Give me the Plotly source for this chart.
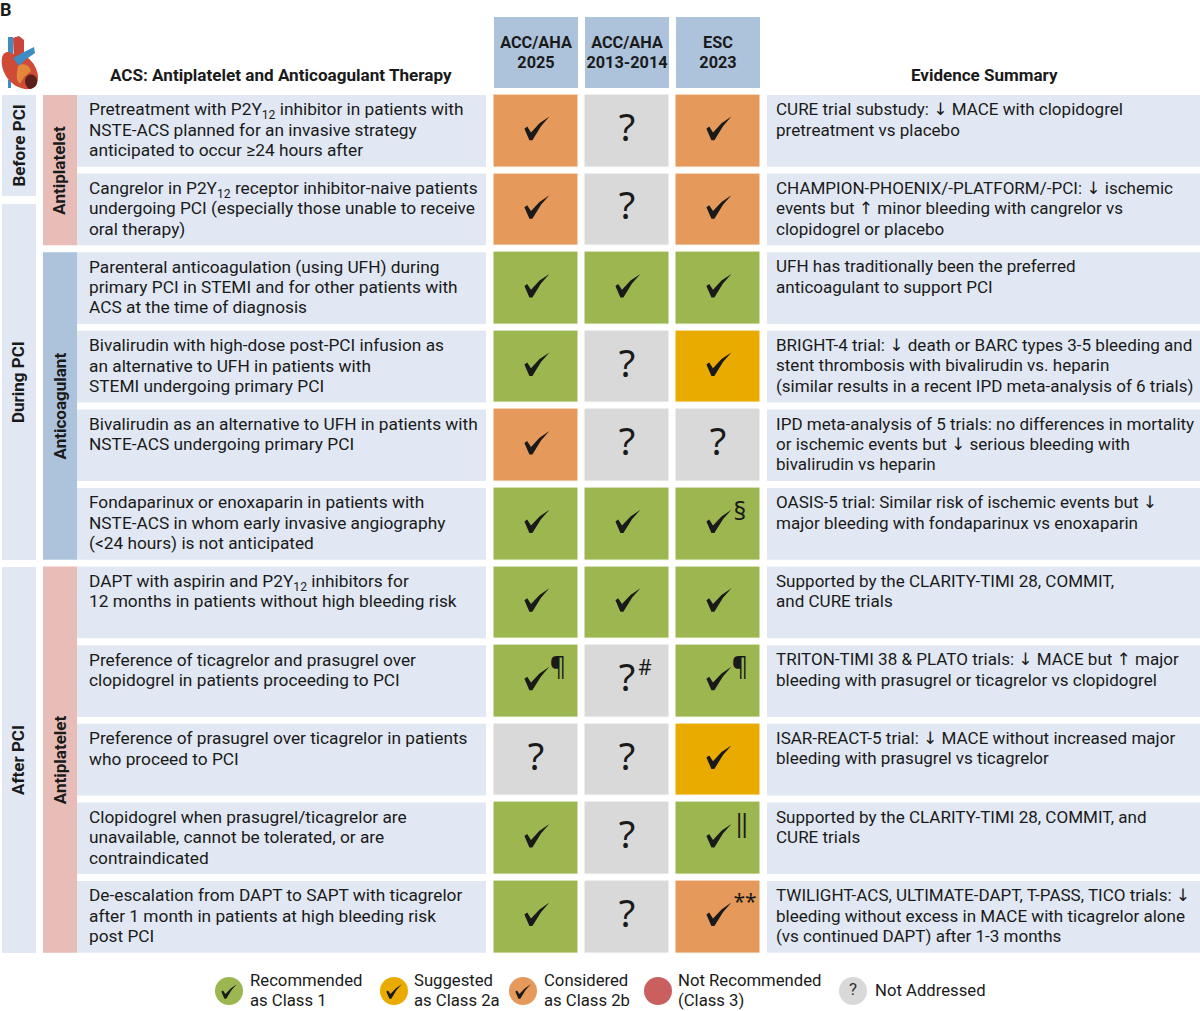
import plotly.graph_objects as go

# ---------- data ----------
guideline_labels = [["ACC/AHA", "2025"], ["ACC/AHA", "2013-2014"], ["ESC", "2023"]]
therapy_lines = [
    ["Pretreatment with P2Y<sub>12</sub> inhibitor in patients with", "NSTE-ACS planned for an invasive strategy", "anticipated to occur ≥24 hours after"],
    ["Cangrelor in P2Y<sub>12</sub> receptor inhibitor-naive patients", "undergoing PCI (especially those unable to receive", "oral therapy)"],
    ["Parenteral anticoagulation (using UFH) during", "primary PCI in STEMI and for other patients with", "ACS at the time of diagnosis"],
    ["Bivalirudin with high-dose post-PCI infusion as", "an alternative to UFH in patients with", "STEMI undergoing primary PCI"],
    ["Bivalirudin as an alternative to UFH in patients with", "NSTE-ACS undergoing primary PCI"],
    ["Fondaparinux or enoxaparin in patients with", "NSTE-ACS in whom early invasive angiography", "(&lt;24 hours) is not anticipated"],
    ["DAPT with aspirin and P2Y<sub>12</sub> inhibitors for", "12 months in patients without high bleeding risk"],
    ["Preference of ticagrelor and prasugrel over", "clopidogrel in patients proceeding to PCI"],
    ["Preference of prasugrel over ticagrelor in patients", "who proceed to PCI"],
    ["Clopidogrel when prasugrel/ticagrelor are", "unavailable, cannot be tolerated, or are", "contraindicated"],
    ["De-escalation from DAPT to SAPT with ticagrelor", "after 1 month in patients at high bleeding risk", "post PCI"],
]
evidence_lines = [
    ["CURE trial substudy: ↓ MACE with clopidogrel", "pretreatment vs placebo"],
    ["CHAMPION-PHOENIX/-PLATFORM/-PCI: ↓ ischemic", "events but ↑ minor bleeding with cangrelor vs", "clopidogrel or placebo"],
    ["UFH has traditionally been the preferred", "anticoagulant to support PCI"],
    ["BRIGHT-4 trial: ↓ death or BARC types 3-5 bleeding and", "stent thrombosis with bivalirudin vs. heparin", "(similar results in a recent IPD meta-analysis of 6 trials)"],
    ["IPD meta-analysis of 5 trials: no differences in mortality", "or ischemic events but ↓ serious bleeding with", "bivalirudin vs heparin"],
    ["OASIS-5 trial: Similar risk of ischemic events but ↓", "major bleeding with fondaparinux vs enoxaparin"],
    ["Supported by the CLARITY-TIMI 28, COMMIT,", "and CURE trials"],
    ["TRITON-TIMI 38 &amp; PLATO trials: ↓ MACE but ↑ major", "bleeding with prasugrel or ticagrelor vs clopidogrel"],
    ["ISAR-REACT-5 trial: ↓ MACE without increased major", "bleeding with prasugrel vs ticagrelor"],
    ["Supported by the CLARITY-TIMI 28, COMMIT, and", "CURE trials"],
    ["TWILIGHT-ACS, ULTIMATE-DAPT, T-PASS, TICO trials: ↓", "bleeding without excess in MACE with ticagrelor alone", "(vs continued DAPT) after 1-3 months"],
]
# 0 not addressed, 1 class 1, 2 class 2a, 3 class 2b, 4 class 3
status_2025 = [3, 3, 1, 1, 3, 1, 1, 1, 0, 1, 1]
status_2013 = [0, 0, 1, 0, 0, 1, 1, 0, 0, 0, 0]
status_esc = [3, 3, 1, 2, 0, 1, 1, 1, 2, 1, 3]
footnote_2025 = ["", "", "", "", "", "", "", "¶", "", "", ""]
footnote_2013 = ["", "", "", "", "", "", "", "#", "", "", ""]
footnote_esc = ["", "", "", "", "", "§", "", "¶", "", "‖", "**"]
stage_labels = ["Before PCI", "During PCI", "After PCI"]
stage_spans = [(0, 95, 196), (1, 204, 560), (2, 567, 953)]
class_labels = ["Antiplatelet", "Anticoagulant", "Antiplatelet"]
class_rows = [(0, 1), (2, 5), (6, 10)]
class_colors = ["#E8BDB7", "#ADC3DC", "#E8BDB7"]
legend_lines = [["Recommended", "as Class 1"], ["Suggested", "as Class 2a"], ["Considered", "as Class 2b"],
                ["Not Recommended", "(Class 3)"], ["Not Addressed"]]
legend_status = [1, 2, 3, 4, 0]
palette = ["#D9D9D9", "#9CB750", "#EAAB00", "#E59A5B", "#C9605F"]

# ---------- layout geometry ----------
W, H = 1200, 1011
ROW0, PITCH, ROW_H = 95.0, 78.6, 71.7
COL_X = [536, 627, 718]
COL_PITCH = 91
INK = "#1A1A1A"
BAND = "#E1E8F3"
FONT = "Roboto"
TEXT_SIZE = 17.2
row_top = lambda i: ROW0 + PITCH * i
row_mid = lambda i: row_top(i) + ROW_H / 2

def arrows(t):
    for a in "↓↑":
        t = t.replace(a, f'<span style="font-family:DejaVu Sans">{a}</span>')
    return t

fig = go.Figure()
shapes = []
def rect(x0, y0, x1, y1, color):
    shapes.append(dict(type="rect", xref="x", yref="y", x0=x0, x1=x1, y0=y0, y1=y1,
                       fillcolor=color, line_width=0, layer="below"))

# status cells
matrix = [list(r) for r in zip(status_2025, status_2013, status_esc)]
n = len(palette)
scale = []
for k, c in enumerate(palette):
    scale += [[k / n, c], [(k + 1) / n, c]]
fig.add_trace(go.Heatmap(x=COL_X, y=[row_mid(i) for i in range(len(matrix))], z=matrix,
                         zmin=0, zmax=n, colorscale=scale, showscale=False, hoverinfo="skip",
                         xgap=COL_PITCH - 84, ygap=PITCH - ROW_H))

# bands
for i in range(len(matrix)):
    rect(77, row_top(i), 486, row_top(i) + ROW_H, BAND)
    rect(767, row_top(i), 1200, row_top(i) + ROW_H, BAND)
for (_, y0, y1) in stage_spans:
    rect(2, y0, 36, y1, BAND)
for (a, b), c in zip(class_rows, class_colors):
    rect(43, row_top(a), 77, row_top(b) + ROW_H, c)
for x in COL_X:
    rect(x - 42, 17, x + 42, 88, "#ADC3DC")

# body text
def add_text(xs, ys, ts, size=TEXT_SIZE, color=INK, pos="middle right", family=FONT):
    fig.add_trace(go.Scatter(x=xs, y=ys, text=ts, mode="text", textposition=pos, hoverinfo="skip",
                             textfont=dict(family=family, size=size, color=color), showlegend=False))

for x0, table, size in ((89, therapy_lines, 17.3), (776, evidence_lines, 17.05)):
    xs, ys, ts = [], [], []
    for i, lines in enumerate(table):
        for j, t in enumerate(lines):
            xs.append(x0); ys.append(row_top(i) + 16.0 + 20.4 * j); ts.append(arrows(t))
    add_text(xs, ys, ts, size=size)

# check marks and question marks
def check_path(cx, cy, k=1.0):
    pts = [(-11.6, -2.2), (-8.8, -4.2), (-5.0, 1.6), (3.5, -7.5), (13.4, -14.2), (5.0, -4.6), (-3.6, 9.3), (-6.6, 9.3)]
    return "M" + " L".join(f"{cx + k * a:.1f},{cy + k * b:.1f}" for a, b in pts) + " Z"

for ci, (col, notes) in enumerate(zip(zip(*matrix), (footnote_2025, footnote_2013, footnote_esc))):
    for i, v in enumerate(col):
        if v:
            shapes.append(dict(type="path", xref="x", yref="y", path=check_path(COL_X[ci], row_mid(i)),
                               fillcolor=INK, line_width=0))
        else:
            add_text([COL_X[ci]], [row_mid(i) + 0.5], ["?"], size=38, pos="middle center", family="Noto Sans")
        note = notes[i]
        if note:
            sz = {"¶": 25, "#": 21, "§": 25, "‖": 25, "**": 21}[note]
            dx = {"¶": 22, "#": 18, "§": 22, "‖": 24, "**": 27}[note]
            dy = {"¶": -12, "#": -11, "§": -10, "‖": -13, "**": -13}[note]
            add_text([COL_X[ci] + dx], [row_mid(i) + dy], [note], size=sz, pos="middle center", family="Noto Sans")

# headers
for x, lines in zip(COL_X, guideline_labels):
    for j, t in enumerate(lines):
        add_text([x], [43.5 + 20 * j], [f"<b>{t}</b>"], size=16.3, pos="middle center")
add_text([110], [76.5], ["<b>ACS: Antiplatelet and Anticoagulant Therapy</b>"], size=17.1)
add_text([911], [76.5], ["<b>Evidence Summary</b>"], size=17)
add_text([0], [11], ["<b>B</b>"], size=18)

# vertical labels
annotations = []
def vlabel(x, y, t):
    annotations.append(dict(x=x, y=y, xref="x", yref="y", text=f"<b>{t}</b>", textangle=-90, showarrow=False,
                            font=dict(family=FONT, size=17, color=INK), xanchor="center", yanchor="middle"))
for (_, y0, y1), t in zip(stage_spans, stage_labels):
    vlabel(18, (y0 + y1) / 2, t)
for (a, b), t in zip(class_rows, class_labels):
    vlabel(59.5, (row_top(a) + row_top(b) + ROW_H) / 2, t)

# legend
leg_x = [229, 394, 523, 658, 853]
leg_text_x = [250, 414, 544, 678, 875]
fig.add_trace(go.Scatter(x=leg_x, y=[991] * 5, mode="markers", hoverinfo="skip", showlegend=False,
                         marker=dict(size=28, color=[palette[s] for s in legend_status], line_width=0)))
for x, tx, s, lines in zip(leg_x, leg_text_x, legend_status, legend_lines):
    if s in (1, 2, 3):
        shapes.append(dict(type="path", xref="x", yref="y", path=check_path(x - 0.5, 993, 0.62), fillcolor=INK, line_width=0))
    elif s == 0:
        add_text([x], [991], ["?"], size=17, color="#333333", pos="middle center")
    for j, t in enumerate(lines):
        yy = 992 if len(lines) == 1 else 982 + 20 * j
        add_text([tx], [yy], [t], size=16.7)

# heart icon
def blob(path, color):
    shapes.append(dict(type="path", xref="x", yref="y", path=path, fillcolor=color, line_width=0))
blob("M8,37 L13,37 L13,54 L8,54 Z", "#3F8CC4")
blob("M15,37 L18,37 L18,54 L15,54 Z", "#3F8CC4")
blob("M8,88 L11,88 L11,80 L8,80 Z", "#3F8CC4")
blob("M2,58 C3,52 8,50 13,54 L28,58 C33,62 37,68 38,76 C38,84 35,88 30,89 C22,90 12,86 6,76 C3,71 1,65 2,58 Z", "#CF4B36")
blob("M13,38 L19,36 L24,40 L24,62 L14,62 Z", "#C9453A")
blob("M13,58 L24,52 L34,47 L35,53 L25,60 L19,66 Z", "#3F8CC4")
blob("M18,66 C24,62 30,65 31,72 C27,73 23,78 20,84 C15,80 17,72 18,66 Z", "#E2873C")
blob("M25,80 C27,73 34,73 37,79 C38,85 35,88 30,89 C27,88 25,85 25,80 Z", "#5A1F1A")

fig.update_layout(width=W, height=H, margin=dict(l=0, r=0, t=0, b=0), paper_bgcolor="white", plot_bgcolor="white",
                  showlegend=False, shapes=shapes, annotations=annotations,
                  xaxis=dict(range=[0, W], visible=False, fixedrange=True),
                  yaxis=dict(range=[H, 0], visible=False, fixedrange=True))
fig.write_html("out.html", post_script="document.body.style.margin='0';document.body.style.overflow='hidden';",
               config=dict(displayModeBar=False))
